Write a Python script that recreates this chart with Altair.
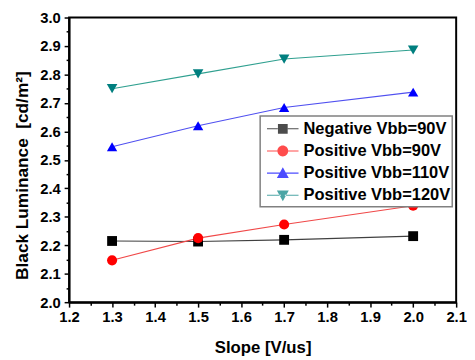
import altair as alt
import pandas as pd

# ---- data ----
slope = [1.3, 1.5, 1.7, 2.0]
series_names = ["Negative Vbb=90V", "Positive Vbb=90V", "Positive Vbb=110V", "Positive Vbb=120V"]
neg_90 = [2.215, 2.213, 2.219, 2.232]
pos_90 = [2.147, 2.225, 2.273, 2.339]
pos_110 = [2.546, 2.620, 2.684, 2.738]
pos_120 = [2.750, 2.802, 2.854, 2.886]

x_ticks = [1.2, 1.25, 1.3, 1.35, 1.4, 1.45, 1.5, 1.55, 1.6, 1.65, 1.7, 1.75,
           1.8, 1.85, 1.9, 1.95, 2.0, 2.05, 2.1]
y_ticks = [2.0, 2.05, 2.1, 2.15, 2.2, 2.25, 2.3, 2.35, 2.4, 2.45, 2.5, 2.55,
           2.6, 2.65, 2.7, 2.75, 2.8, 2.85, 2.9, 2.95, 3.0]

rows = []
for name, vals in zip(series_names, [neg_90, pos_90, pos_110, pos_120]):
    for s, v in zip(slope, vals):
        rows.append({"slope": s, "lum": v, "series": name, "mk": name})
df = pd.DataFrame(rows)

marker_colors = ["#000000", "#ff0000", "#0000ff", "#007f7f"]
line_colors = ["#404040", "#f04848", "#5050f0", "#30a090"]
marker_shapes = ["square", "circle", "triangle-up", "triangle-down"]
marker_sizes = [100, 115, 150, 150]

# legend symbols: line + marker (unit = 11 px, symbol slot is 22 px)
seg = "M-0.55,-0.05H{a}V0.05H-0.55Z M{b},-0.05H2.36V0.05H{b}Z "
leg_shapes = [
    seg.format(a=0.45, b=1.37) + "M0.46,-0.45H1.36V0.45H0.46Z",
    seg.format(a=0.41, b=1.41) + "M0.41,0A0.5,0.5 0 1,0 1.41,0A0.5,0.5 0 1,0 0.41,0Z",
    seg.format(a=0.72, b=1.1) + "M0.91,-0.55L1.46,0.45L0.36,0.45Z",
    seg.format(a=0.72, b=1.1) + "M0.91,0.55L1.46,-0.45L0.36,-0.45Z",
]

xs = alt.Scale(domain=[1.2, 2.1], nice=False, zero=False)
ys = alt.Scale(domain=[2.0, 3.0], nice=False, zero=False)

major_test = "abs(datum.value*10 - round(datum.value*10)) < 0.001"


def make_axis(vals, title, **kw):
    return alt.Axis(
        values=vals, title=title, grid=False,
        labelExpr=f"{major_test} ? format(datum.value, '.1f') : ''",
        tickSize={"condition": {"test": major_test, "value": 5}, "value": 3},
        labelOverlap=False, labelFlush=False, **kw,
    )


x_axis = make_axis(x_ticks, "Slope [V/us]")
y_axis = make_axis(y_ticks, "Black Luminance\u00a0 [cd/m²]", titleY=160)

base = alt.Chart(df)

X = alt.X("slope:Q", scale=xs, axis=x_axis)
Y = alt.Y("lum:Q", scale=ys, axis=y_axis)

lines = base.mark_line(strokeWidth=1.1).encode(
    x=X, y=Y,
    color=alt.Color("series:N", scale=alt.Scale(domain=series_names, range=line_colors), legend=None),
    detail="series:N",
)

points = base.mark_point(filled=True, opacity=1).encode(
    x=X, y=Y,
    color=alt.Color("series:N", scale=alt.Scale(domain=series_names, range=marker_colors), legend=None),
    shape=alt.Shape("mk:N", scale=alt.Scale(domain=series_names, range=marker_shapes), legend=None),
    size=alt.Size("mk:N", scale=alt.Scale(domain=series_names, range=marker_sizes), legend=None),
)

legend_layer = base.transform_filter("false").mark_point(filled=True).encode(
    x=X, y=Y,
    color=alt.Color(
        "series:N",
        scale=alt.Scale(domain=series_names, range=marker_colors),
        legend=alt.Legend(
            title=None, orient="none", legendX=194, legendY=100,
            symbolSize=484, symbolStrokeWidth=0, labelOffset=20,
            labelFont="Liberation Sans", labelFontSize=16.7, labelFontWeight="bold",
            labelColor="#000000", rowPadding=2.5, padding=2,
            strokeColor="#808080", fillColor="#ffffff",
            labelLimit=300,
        ),
    ),
    shape=alt.Shape(
        "series:N",
        scale=alt.Scale(domain=series_names, range=leg_shapes),
        legend=alt.Legend(title=None),
    ),
)

chart = (
    alt.layer(lines, points, legend_layer)
    .resolve_scale(color="independent", shape="independent", size="independent")
    .properties(width=393, height=289, padding={"left": 6, "top": 0, "right": 0, "bottom": 0})
    .configure_view(stroke="#000000", strokeWidth=2)
    .configure_axis(
        domainColor="#000000", domainWidth=2, tickColor="#000000", tickWidth=1.5,
        labelFont="Liberation Sans", labelFontSize=15, labelFontWeight="bold",
        labelColor="#000000", labelPadding=3, labelOverlap=False,
        titleFont="Liberation Sans", titleFontSize=17, titleFontWeight="bold",
        titleColor="#000000",
    )
    .configure_axisY(titlePadding=8, labelPadding=4, titleFontSize=17.5)
    .configure_axisX(titlePadding=15)
    .configure_legend(strokeWidth=1.5)
)

chart.save("out.html", embed_options={"renderer": "svg", "actions": False})
